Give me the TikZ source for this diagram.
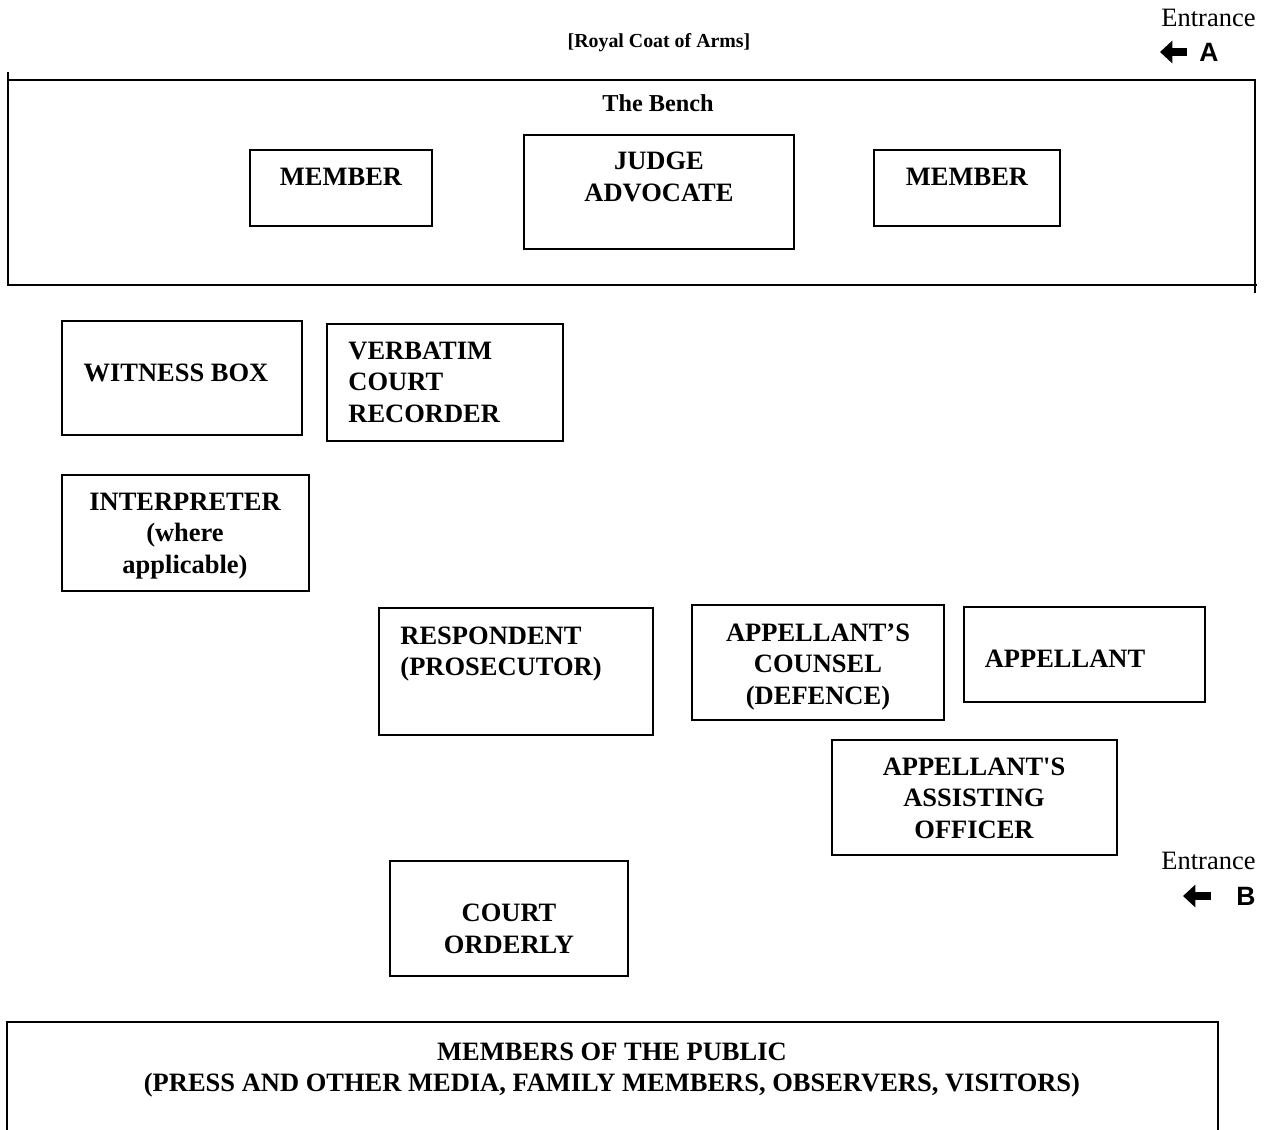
\documentclass[tikz,border=0pt]{standalone}
\usepackage{fontspec}
\setmainfont{Liberation Serif}
\newfontfamily\rawserif{Liberation Serif}[Ligatures=TeXOff]
\newfontfamily\arialfont{Liberation Sans}
\usepackage{tikz}
\usetikzlibrary{positioning, arrows.meta}

\tikzset{
    room/.style={draw, line width=0.9pt},
    tag/.style={font=\fontsize{12}{14.3}\selectfont\bfseries, align=center, inner sep=0pt},
    tagleft/.style={tag, align=left, anchor=west},
    sign/.style={font=\fontsize{12}{14.3}\selectfont, inner sep=0pt},
    door/.style={sign, anchor=east, font=\fontsize{12}{14}\selectfont\arialfont\bfseries},
    doorarrow/.style={line width=3.6pt, -{Triangle[length=5.6pt, width=10pt]}}
}

\begin{document}
\begin{tikzpicture}[x=0.453pt, y=-0.453pt]

    \useasboundingbox (0,0) rectangle (1267,1130);

    % --- HEADINGS ---
    \node[tag, font=\fontsize{9}{11}\selectfont\bfseries] (arms) at (659,43) {[Royal Coat of Arms]};
    \node[tag, font=\fontsize{11}{13}\selectfont\bfseries] (bench) at (658,103) {The Bench};

    % --- ENTRANCE A ---
    \node[sign, anchor=east] (entA) at (1256,18) {Entrance};
    \node[door] (doorA) at (1219,52) {A};
    \draw[doorarrow] (1187,52) -- (1160,52);

    % --- THE BENCH FRAME ---
    \draw[room] (8,72) -- (8,285) -- (1257,285);
    \draw[room] (8,80) -- (1255,80) -- (1255,293);

    % --- BENCH SEATS ---
    \draw[room] (250,150) rectangle (432,226);
    \node[tag] (member1) at (341,177) {MEMBER};
    \draw[room] (524,135) rectangle (794,249);
    \node[tag] (judge) at (659,177) {JUDGE\\ADVOCATE};
    \draw[room] (874,150) rectangle (1060,226);
    \node[tag] (member2) at (967,177) {MEMBER};

    % --- LEFT SIDE ---
    \draw[room] (62,321) rectangle (302,435);
    \node[tag] (witness) at (176,373) {WITNESS BOX};
    \draw[room] (327,324) rectangle (563,441);
    \node[tagleft] (recorder) at (348,382) {VERBATIM\\COURT\\RECORDER};
    \draw[room] (62,475) rectangle (309,591);
    \node[tag] (interp) at (185,536) {INTERPRETER\\(where\\applicable)};

    % --- COUNSEL ROW ---
    \draw[room] (379,608) rectangle (653,735);
    \node[tagleft] (respondent) at (400,654) {RESPONDENT\\(PROSECUTOR)};
    \draw[room] (692,605) rectangle (944,720);
    \node[tag] (counsel) at (818,667) {APPELLANT’S\\COUNSEL\\(DEFENCE)};
    \draw[room] (964,607) rectangle (1205,702);
    \node[tag] (appellant) at (1065,659) {APPELLANT};
    \draw[room] (832,740) rectangle (1117,855);
    \node[tag] (assist) at (974,798) {{\rawserif\bfseries APPELLANT'S}\\ASSISTING\\OFFICER};

    % --- ENTRANCE B ---
    \node[sign, anchor=east] (entB) at (1256,861) {Entrance};
    \node[door] (doorB) at (1256,896) {B};
    \draw[doorarrow] (1211,896) -- (1183,896);

    % --- ORDERLY ---
    \draw[room] (390,861) rectangle (628,976);
    \node[tag] (orderly) at (509,929) {COURT\\ORDERLY};

    % --- PUBLIC GALLERY ---
    \draw[room] (7,1140) -- (7,1022) -- (1218,1022) -- (1218,1140);
    \node[tag] (public) at (612,1070) {MEMBERS OF THE PUBLIC\\(PRESS AND OTHER MEDIA, FAMILY MEMBERS, OBSERVERS, VISITORS)};

\end{tikzpicture}
\end{document}
